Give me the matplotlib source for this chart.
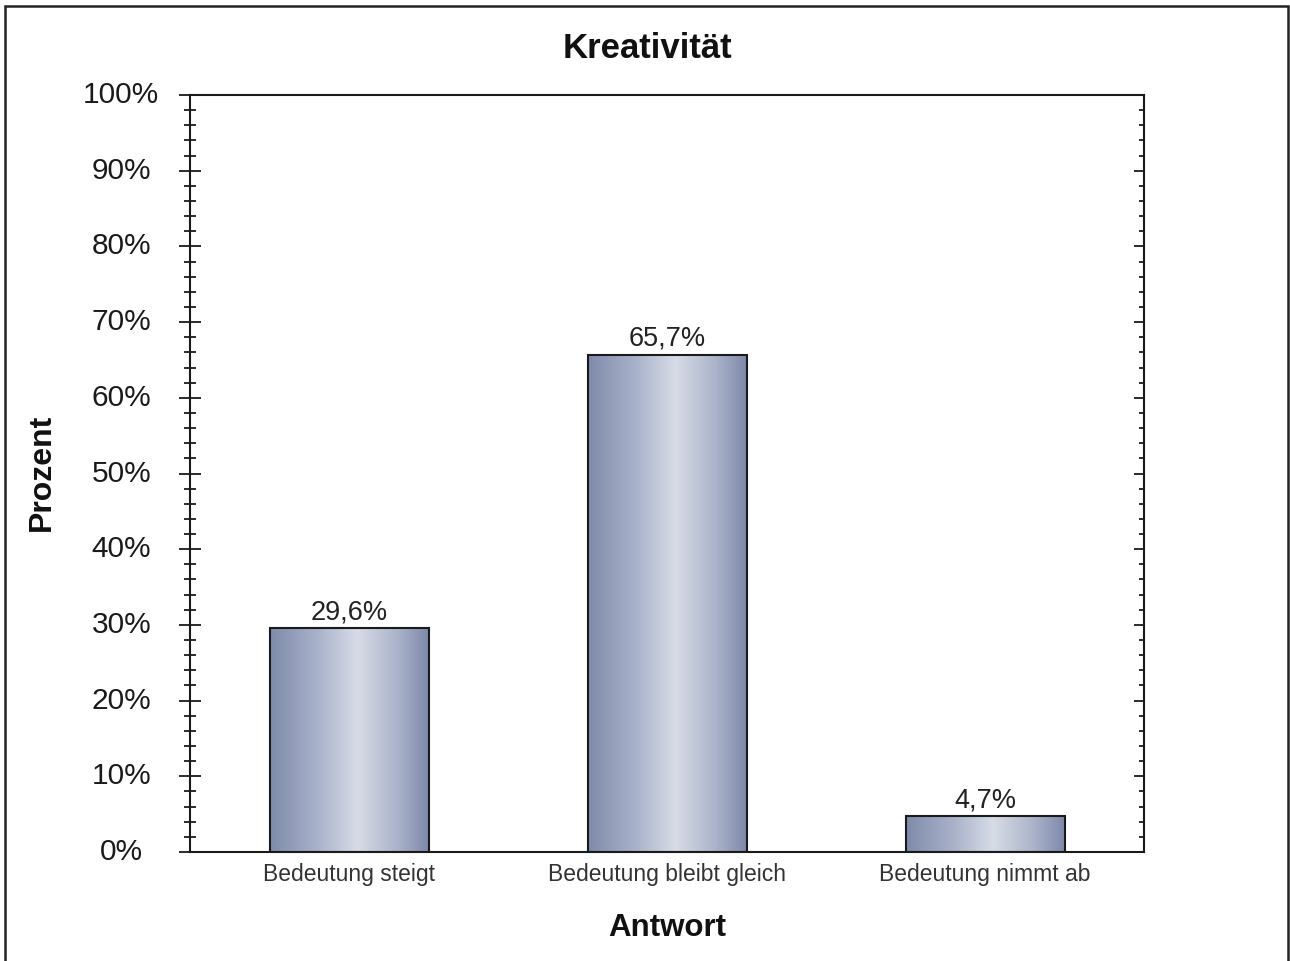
import matplotlib
matplotlib.use("Agg")
import matplotlib.pyplot as plt
import numpy as np
from matplotlib.colors import LinearSegmentedColormap
from matplotlib.patches import Rectangle
from matplotlib.ticker import MultipleLocator

plt.rcParams['font.family'] = ['Liberation Sans', 'DejaVu Sans']

categories = ["Bedeutung steigt", "Bedeutung bleibt gleich", "Bedeutung nimmt ab"]
values = [29.6, 65.7, 4.7]
value_labels = ["29,6%", "65,7%", "4,7%"]
yticks = [0, 10, 20, 30, 40, 50, 60, 70, 80, 90, 100]
ytick_labels = [f"{v}%" for v in yticks]
title = "Kreativität"
xlabel = "Antwort"
ylabel = "Prozent"

W, H = 1290, 961
fig = plt.figure(figsize=(W / 100, H / 100), dpi=100)
ax = fig.add_axes([190 / W, 1 - 852 / H, (1144 - 190) / W, (852 - 95) / H])

cmap = LinearSegmentedColormap.from_list(
    "bar", [(0.0, "#7f8bac"), (0.3, "#a9b2c9"), (0.55, "#d7dce6"), (0.8, "#acb4ca"), (1.0, "#7e89aa")])
grad = np.linspace(0, 1, 256).reshape(1, -1)

x = np.arange(len(categories))
bars = ax.bar(x, values, width=0.5, color="none", edgecolor="#1a1a1a", linewidth=1.5, zorder=3)
for b in bars:
    x0, w, h = b.get_x(), b.get_width(), b.get_height()
    im = ax.imshow(grad, cmap=cmap, aspect="auto", extent=(x0, x0 + w, 0, h), zorder=2,
                   interpolation="bilinear")
    im.set_clip_path(b)

for xi, v, lab in zip(x, values, value_labels):
    ax.annotate(lab, (xi, v), xytext=(0, 2), textcoords="offset points",
                ha="center", va="bottom", fontsize=19.5, color="#222222")

ax.set_xlim(-0.5, 2.5)
ax.set_ylim(0, 100)
ax.set_xticks(x)
ax.set_xticklabels(categories, fontsize=16.5, color="#333333")
ax.tick_params(axis="x", length=0, pad=8)

ax.set_yticks(yticks)
ax.set_yticklabels(ytick_labels, fontsize=21.5, color="#1a1a1a")
ax.yaxis.set_minor_locator(MultipleLocator(2))
ax.tick_params(axis="y", which="major", direction="inout", length=16, width=1.3,
               pad=41.5, right=True, color="#1a1a1a")
ax.tick_params(axis="y", which="minor", direction="inout", length=8, width=1.3,
               right=True, color="#1a1a1a")
for lab in ax.get_yticklabels():
    lab.set_ha("center")
    lab.set_va("center")

# Right side ticks point inward only
for t in ax.yaxis.get_major_ticks():
    t.tick2line.set_marker(matplotlib.lines.TICKLEFT)
    t.tick2line.set_markersize(7)
for t in ax.yaxis.get_minor_ticks():
    t.tick2line.set_marker(matplotlib.lines.TICKLEFT)
    t.tick2line.set_markersize(3.6)

for s in ax.spines.values():
    s.set_linewidth(1.5)
    s.set_color("#1a1a1a")

ax.set_xlabel(xlabel, fontsize=22.5, fontweight="bold", labelpad=19, color="#111111")
fig.text(42 / W, 1 - 472 / H, ylabel, rotation=90, fontsize=23, fontweight="bold",
         ha="center", va="center", color="#111111")
fig.text(647 / W, 1 - 48 / H, title, fontsize=25, fontweight="bold",
         ha="center", va="center", color="#111111")

fig.patches.append(Rectangle((5 / W, -0.01), (1288 - 5) / W, 1 - 6 / H + 0.01,
                             transform=fig.transFigure, fill=False,
                             edgecolor="#222222", linewidth=1.8))

fig.savefig("out.png", dpi=100)
